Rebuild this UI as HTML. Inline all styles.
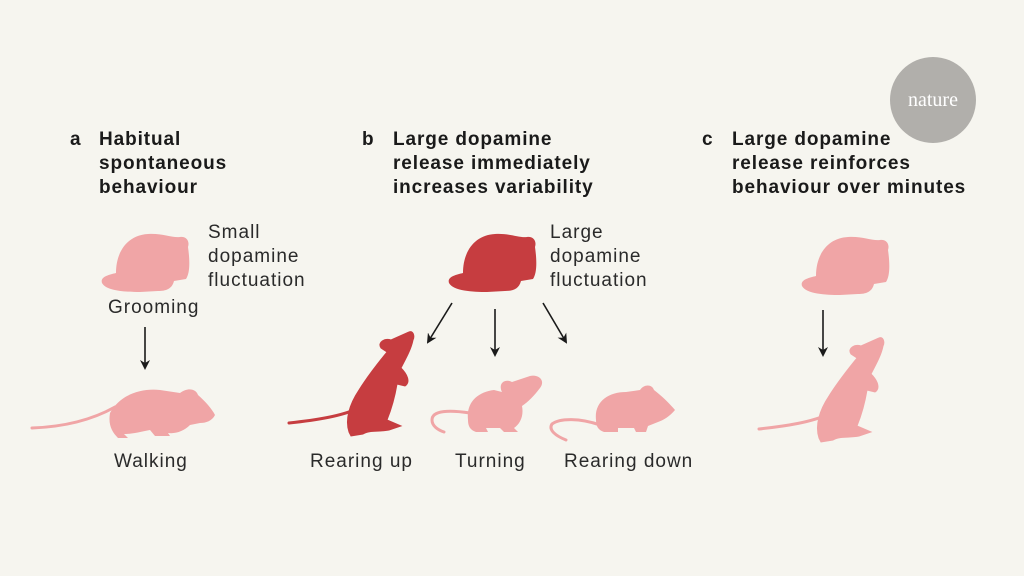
<!DOCTYPE html>
<html><head><meta charset="utf-8"><style>
html,body{margin:0;padding:0;background:#f6f5ef;}
svg{display:block}
text{font-family:"Liberation Sans",sans-serif;fill:#222;}
.t{font-weight:bold;font-size:19px;letter-spacing:0.9px;fill:#1a1a1a}
.l{font-size:19px;letter-spacing:1px;fill:#2a2a2a}
</style></head><body>
<svg width="1024" height="576" viewBox="0 0 1024 576" xmlns="http://www.w3.org/2000/svg">
<defs>
<marker id="ah" markerWidth="10" markerHeight="10" refX="8" refY="5" orient="auto" markerUnits="userSpaceOnUse">
<path d="M0,0 L10,5 L0,10 L3,5 Z" fill="#1a1a1a"/></marker>
<path id="groom" d="M2,50 C0,44 8,42 16,40 C16,18 28,2 48,1 C62,0 72,5 80,4 C86,3 90,8 88,14 C90,28 90,40 86,46 L74,48 C72,56 66,58 58,58 L40,59 C26,59 6,58 2,50 Z"/>
<g id="rear">
<path d="M2,93 C30,90 55,86 72,78" fill="none" stroke-width="3" stroke-linecap="round" stroke="inherit"/>
<path d="M62,102 C58,90 62,75 72,60 C82,44 92,32 100,22 L94,18 C90,12 98,8 104,10 L122,2 C126,0 128,6 126,10 C124,20 118,30 114,38 C120,44 124,52 118,56 L110,54 C108,66 104,80 100,90 L114,96 L102,100 C92,102 82,100 76,104 L64,106 Z"/>
</g>
</defs>
<rect width="1024" height="576" fill="#f6f5ef"/>
<circle cx="933" cy="100" r="43" fill="#b1afab"/>
<text x="933" y="106" text-anchor="middle" style="font-family:'Liberation Serif',serif;font-size:20px;fill:#fff">nature</text>

<text class="t" x="70" y="145">a</text>
<text class="t" x="99" y="145">Habitual</text>
<text class="t" x="99" y="169">spontaneous</text>
<text class="t" x="99" y="193">behaviour</text>
<text class="t" x="362" y="145">b</text>
<text class="t" x="393" y="145">Large dopamine</text>
<text class="t" x="393" y="169">release immediately</text>
<text class="t" x="393" y="193">increases variability</text>
<text class="t" x="702" y="145">c</text>
<text class="t" x="732" y="145">Large dopamine</text>
<text class="t" x="732" y="169">release reinforces</text>
<text class="t" x="732" y="193">behaviour over minutes</text>

<text class="l" x="208" y="238">Small</text>
<text class="l" x="208" y="262">dopamine</text>
<text class="l" x="208" y="286">fluctuation</text>
<text class="l" x="108" y="313">Grooming</text>
<text class="l" x="114" y="467">Walking</text>
<text class="l" x="550" y="238">Large</text>
<text class="l" x="550" y="262">dopamine</text>
<text class="l" x="550" y="286">fluctuation</text>
<text class="l" x="310" y="467">Rearing up</text>
<text class="l" x="455" y="467">Turning</text>
<text class="l" x="564" y="467">Rearing down</text>

<g stroke="#1a1a1a" stroke-width="1.6" marker-end="url(#ah)">
<line x1="145" y1="327" x2="145" y2="368"/>
<line x1="452" y1="303" x2="428" y2="342"/>
<line x1="495" y1="309" x2="495" y2="355"/>
<line x1="543" y1="303" x2="566" y2="342"/>
<line x1="823" y1="310" x2="823" y2="355"/>
</g>

<use href="#groom" x="100" y="233" fill="#f0a5a6"/>
<use href="#groom" x="447" y="233" fill="#c63d40"/>
<use href="#groom" x="800" y="236" fill="#f0a5a6"/>

<g fill="#f0a5a6">
<path d="M32,428 C60,427 90,421 115,407" fill="none" stroke="#f0a5a6" stroke-width="3" stroke-linecap="round"/>
<path d="M110,413 C120,395 140,388 160,390 L180,393 C188,387 196,389 198,395 C205,401 212,409 215,415 C212,421 206,423 200,423 L190,425 C184,431 176,434 168,433 L170,436 L155,436 L150,430 C140,432 132,434 124,434 L128,438 L118,438 C112,432 108,425 110,413 Z"/>
</g>
<g fill="#c63d40" stroke="#c63d40" transform="translate(287,330)"><use href="#rear"/></g>
<g fill="#f0a5a6" stroke="#f0a5a6" transform="translate(757,336)"><use href="#rear"/></g>
<g fill="#f0a5a6">
<path d="M470,413 C450,410 432,410 432,420 C432,426 438,430 444,432" fill="none" stroke="#f0a5a6" stroke-width="3" stroke-linecap="round"/>
<path d="M468,420 C466,402 478,392 494,390 L502,392 C498,384 504,378 512,382 L530,376 C538,374 546,380 540,388 C534,396 528,402 522,406 C524,416 520,424 514,428 L518,432 L504,432 L500,428 L486,428 L488,432 L476,432 C470,430 468,426 468,420 Z"/>
</g>
<g fill="#f0a5a6">
<path d="M600,425 C580,418 560,418 552,424 C548,430 556,436 566,440" fill="none" stroke="#f0a5a6" stroke-width="3" stroke-linecap="round"/>
<path d="M596,420 C594,402 608,392 626,392 L640,390 C644,384 652,384 654,390 C662,396 670,404 675,410 C670,416 664,420 658,422 L648,426 L646,432 L636,432 L634,428 L618,428 L618,432 L604,432 C598,430 596,426 596,420 Z"/>
</g>
</svg>
</body></html>
